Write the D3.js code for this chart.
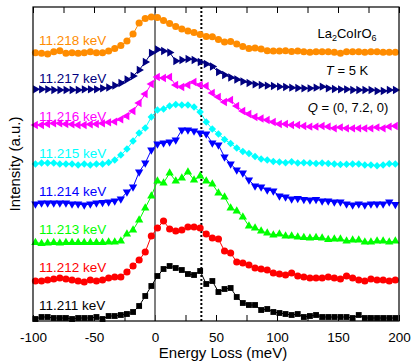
<!DOCTYPE html>
<html lang="en">
<head>
<meta charset="UTF-8">
<title>La2CoIrO6 RIXS spectra</title>
<script src="https://d3js.org/d3.v7.min.js"></script>
<style>
    body { margin: 0; background: #fff; }
    svg { font-family: "Liberation Sans", Arial, Helvetica, sans-serif; }
    .frame { fill: none; stroke: #000; stroke-width: 1.2px; }
    .axis path { display: none; }
    .axis line { stroke: #000; stroke-width: 1px; }
    .axis text { font-size: 13.5px; fill: #000; font-family: "Liberation Sans", Arial, sans-serif; }
    .series-line { fill: none; stroke-width: 1px; }
    .label { font-size: 13.5px; }
    .note { font-size: 13px; fill: #000; }
</style>
</head>
<body>
<svg width="415" height="364"></svg>
<script>
// energy loss grid (meV)
const energy = [-98, -93, -88, -83, -78, -73, -68, -63, -58, -53,
                -48, -43, -38, -33, -28, -23, -18, -13, -8, -3,
                2, 7, 12, 17, 22, 27, 32, 37, 42, 47,
                52, 57, 62, 67, 72, 77, 82, 87, 92, 97,
                102, 107, 112, 117, 122, 127, 132, 137, 142, 147,
                152, 157, 162, 167, 172, 177, 182, 187, 192, 197];

const labels = ["11.211 keV", "11.212 keV", "11.213 keV", "11.214 keV",
                "11.215 keV", "11.216 keV", "11.217 keV", "11.218 keV"];

// vertical offsets of each spectrum (a.u.)
const offsets = [3, 41, 78, 117, 157, 196, 232, 268];

const s11211 = [-1, 1, 1, 0, 0, 0, -1, 0, 0, 0, 1, -1, 2, 2, 3, 4, 6, 12, 22, 32,
                42, 49, 52, 50, 48, 44, 43, 47, 34, 37, 26, 29, 30, 21, 15, 13, 13, 8, 9, 6,
                5, 4, 3, 4, 1, 2, 3, 1, 1, 1, 1, 1, 0, 3, 0, 0, 0, 0, 0, 0];
const s11212 = [-1, -1, 0, 1, 2, 1, 0, -1, -2, 0, -1, 0, 2, 3, 3, 8, 14, 20, 28, 44,
                52, 59, 51, 49, 50, 53, 53, 52, 46, 42, 41, 29, 27, 18, 17, 15, 12, 11, 10, 7,
                6, 5, 7, 4, 3, 2, 2, 2, 3, 2, 1, 4, 2, 0, -1, 1, 0, 0, -1, 0];
const s11213 = [0.5, -0.5, 0, 0.5, 0, 0.5, 0.5, 0.5, 0.5, 0.5, 0.5, 0.5, 1, 1, 2, 9, 13, 23, 35, 47,
                62, 60, 70, 62, 65, 71, 63, 67, 62, 59, 50, 46, 35, 32, 26, 17, 15, 12, 10, 8,
                9, 7, 7, 6, 5.5, 5, 5.5, 5, 3.5, 4, 4, 2, 3, 3, 1, 1, 2, 2, 1, 2];
const s11214 = [0, 1, 1, 1, 1, 1, 0, 0, -1, 0, 1, 1.5, 2, 3, 5, 12, 17, 32, 41, 54,
                60, 61, 62, 64, 74, 74, 73, 71, 70, 61, 59, 47, 40, 34, 31, 24, 18, 17, 14, 13,
                8, 7, 5, 5.5, 4.5, 4, 4.5, 3, 3, 2, 2, 0, -1, 0, -1, 0, 0, 0, 2, -0.5];
const s11215 = [0, 1, 1, 1, 0, 0, 0, -1, 0, -1, 0, 0, 1.5, 4, 9, 15, 23, 31, 36, 47,
                54, 55, 58, 59.5, 59, 59, 57, 52, 42, 35, 30, 24.5, 20.5, 16, 12.5, 10.5, 7.5, 5, 4, 2.5,
                2, 1.3, 2.3, 1, 1.3, 1, 0.5, 1, 0.5, 0, -0.5, -0.3, 0, 0, -1, -1, -1.7, -1, 0.3, 0];
const s11216 = [0, 0, 1, 1.7, 1.7, 1, 0.7, 0, 0, 0.7, 1, 1.7, 2.7, 3.3, 5.7, 9, 14, 22, 31, 41,
                48, 47, 48, 40, 38, 40, 43, 40, 39, 32, 28, 23, 25, 19, 14, 11, 8, 6.5, 5, 3,
                1, 1, 0, 0, -1, -1.7, -1.7, -1, -1.7, -3.3, -2.3, -3.3, -3.3, -3.3, -3.3, -3.3, -2.3, -3.3, -1.7, -1];
const s11217 = [-0.3, -0.3, -0.3, -1, -1, -1, -1, -1, -0.3, -0.3, -0.3, 0.7, 1.5, 3.5, 6, 9.5, 13, 19, 27, 36,
                39.5, 38, 36.5, 28, 29, 30, 29, 27, 25, 22.5, 17, 14, 11.5, 9.5, 7.5, 6, 4.7, 4, 3.3, 3,
                2.3, 2, 1.3, 1, 0.7, 0.7, 1.3, 2.3, 0.7, 0, -0.3, -0.3, -1, -1, -1, -1, -2, -2, -1, -1];
const s11218 = [0.3, -0.3, -1, 1.3, 2.3, -0.3, 0.3, -0.3, 0.3, 1.3, 0.3, 0.3, 2, 4.5, 7.5, 12, 19, 30, 34.5, 36,
                35.5, 32.5, 29.5, 26.5, 24, 22, 20.5, 18.5, 16.5, 16.3, 13.5, 11, 11.5, 9, 6.5, 4.5, 5, 4, 2.3, 2,
                2, 2.3, 1.5, 2, 1.3, 0.7, 1.3, 1.3, 1.3, 0.7, -0.3, 1.3, 1.3, 1.3, 0.7, 1.3, 1.3, 0.7, 0.7, 0.7];

const spectra = [s11211, s11212, s11213, s11214, s11215, s11216, s11217, s11218];

// marker styles, bottom to top
const styles = [
    {color: "#000000", shape: d3.symbolSquare,   size: 34, rot: 0},
    {color: "#ff0000", shape: d3.symbolCircle,   size: 40, rot: 0},
    {color: "#00ff00", shape: d3.symbolTriangle, size: 30, rot: 0},
    {color: "#0000ff", shape: d3.symbolTriangle, size: 30, rot: 180},
    {color: "#00ffff", shape: d3.symbolSquare,   size: 28, rot: 45},
    {color: "#ff00ff", shape: d3.symbolTriangle, size: 30, rot: -90},
    {color: "#000080", shape: d3.symbolTriangle, size: 30, rot: 90},
    {color: "#ff8c00", shape: d3.symbolCircle,   size: 40, rot: 0}
];

const margin = {top: 7, right: 16, bottom: 43, left: 33};
const width = 415 - margin.left - margin.right;
const height = 364 - margin.top - margin.bottom;

const svg = d3.select("svg")
  .append("g")
    .attr("transform", "translate(" + margin.left + "," + margin.top + ")");

const x = d3.scaleLinear().domain([-100, 200]).range([0, width]);
const y = d3.scaleLinear().domain([0, 314]).range([height, 0]);

const ticks = d3.range(-100, 201, 25);

// bottom axis, inward ticks
svg.append("g")
    .attr("class", "axis")
    .attr("transform", "translate(0," + height + ")")
    .call(d3.axisBottom(x).tickValues(ticks).tickSize(-6).tickPadding(11)
        .tickFormat(d => d % 50 === 0 ? String(d) : ""));

// top axis, inward ticks, no labels
svg.append("g")
    .attr("class", "axis")
    .call(d3.axisTop(x).tickValues(ticks).tickSize(-6).tickFormat(""));

// reference lines at 0 and at the dotted energy
svg.append("line")
    .attr("x1", x(0)).attr("x2", x(0))
    .attr("y1", 0).attr("y2", height)
    .attr("stroke", "#555").attr("stroke-width", 1.5);

svg.append("line")
    .attr("x1", x(38)).attr("x2", x(38))
    .attr("y1", 0).attr("y2", height)
    .attr("stroke", "#000").attr("stroke-width", 2)
    .attr("stroke-dasharray", "2,2");

// spectra
const line = d3.line()
    .x(d => x(d[0]))
    .y(d => y(d[1]));

spectra.forEach((vals, k) => {
    const st = styles[k];
    const pts = vals.map((v, i) => [energy[i], v + offsets[k]]);

    svg.append("path")
        .datum(pts)
        .attr("class", "series-line")
        .attr("stroke", st.color)
        .attr("d", line);

    const sym = d3.symbol().type(st.shape).size(st.size);
    svg.append("g").selectAll("path")
        .data(pts)
      .enter().append("path")
        .attr("d", sym)
        .attr("fill", st.color)
        .attr("transform", d => "translate(" + x(d[0]) + "," + y(d[1]) + ") rotate(" + st.rot + ")");

    svg.append("text")
        .attr("class", "label")
        .attr("x", 6)
        .attr("y", 303 - k * 37.9)
        .attr("fill", st.color)
        .text(labels[k]);
});

// frame
svg.append("rect")
    .attr("class", "frame")
    .attr("width", width)
    .attr("height", height);

// annotations
const formula = svg.append("text")
    .attr("class", "note")
    .attr("x", 314)
    .attr("y", 31)
    .attr("text-anchor", "middle");
formula.append("tspan").text("La");
formula.append("tspan").attr("font-size", "9px").attr("dy", 3).text("2");
formula.append("tspan").attr("dy", -3).text("CoIrO");
formula.append("tspan").attr("font-size", "9px").attr("dy", 3).text("6");

const temp = svg.append("text")
    .attr("class", "note")
    .attr("x", 314)
    .attr("y", 68)
    .attr("text-anchor", "middle");
temp.append("tspan").attr("font-style", "italic").text("T");
temp.append("tspan").text(" = 5 K");

const q = svg.append("text")
    .attr("class", "note")
    .attr("x", 315)
    .attr("y", 105)
    .attr("text-anchor", "middle");
q.append("tspan").attr("font-style", "italic").text("Q");
q.append("tspan").text(" = (0, 7.2, 0)");

// axis titles
svg.append("text")
    .attr("x", 190)
    .attr("y", height + 37)
    .attr("text-anchor", "middle")
    .attr("font-size", "15px")
    .text("Energy Loss (meV)");

svg.append("text")
    .attr("transform", "rotate(-90)")
    .attr("x", -height / 2)
    .attr("y", -13)
    .attr("text-anchor", "middle")
    .attr("font-size", "15px")
    .text("Intensity (a.u.)");
</script>
</body>
</html>
